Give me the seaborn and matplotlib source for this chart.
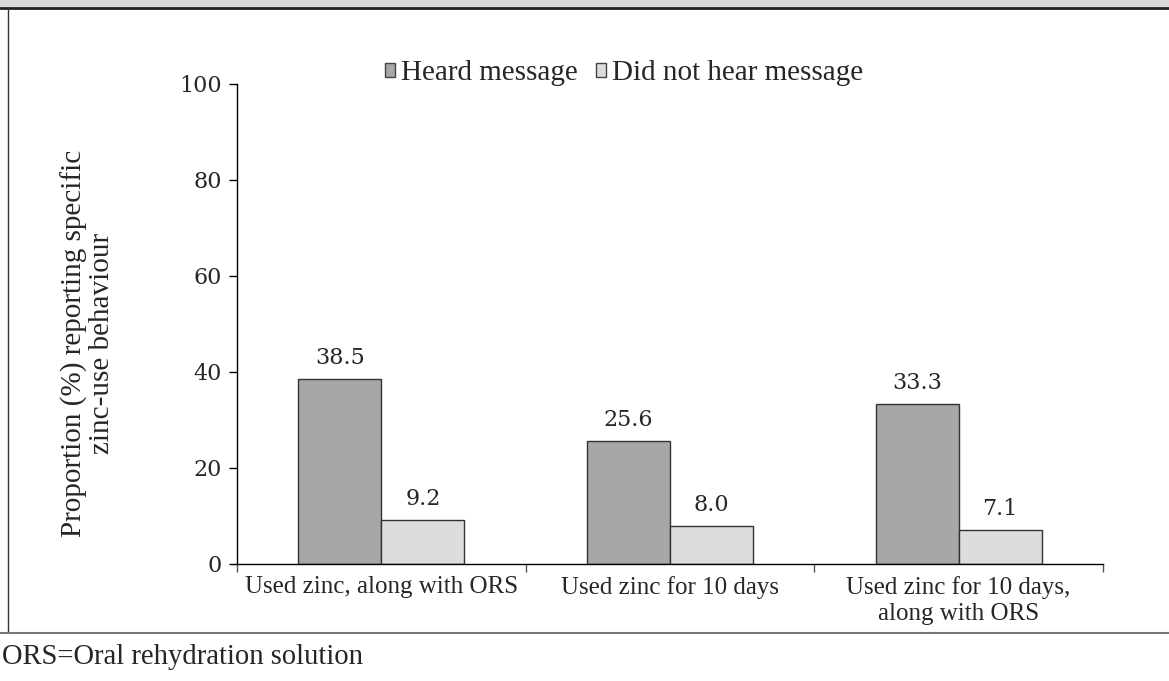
import matplotlib
matplotlib.use("Agg")
import matplotlib.pyplot as plt
from matplotlib.lines import Line2D
from matplotlib.patches import Rectangle
import pandas as pd
import seaborn as sns

categories = ["Used zinc, along with ORS", "Used zinc for 10 days",
              "Used zinc for 10 days,\nalong with ORS"]
groups = ["Heard message", "Did not hear message"]
heard = [38.5, 25.6, 33.3]
not_heard = [9.2, 8.0, 7.1]
colors = ["#a6a7aa", "#dcdddf"]

df = pd.DataFrame({
    "behaviour": categories * 2,
    "group": [groups[0]] * 3 + [groups[1]] * 3,
    "value": heard + not_heard,
})

sns.set_style("ticks")
plt.rcParams["font.family"] = ["Liberation Serif", "DejaVu Serif"]

fig = plt.figure(figsize=(11.69, 6.81), dpi=100)
ax = fig.add_axes([237 / 1169, 1 - 564 / 681, 866 / 1169, 480 / 681])

sns.barplot(data=df, x="behaviour", y="value", hue="group", palette=colors,
            width=0.575, edgecolor="#333333", linewidth=1, ax=ax, legend=True)

for cont in ax.containers:
    ax.bar_label(cont, fmt="%.1f", padding=7, family="DejaVu Serif", fontsize=16)

ax.set_ylim(0, 100)
ax.set_xlim(-0.5, 2.5)
ax.set_yticks([0, 20, 40, 60, 80, 100])
ax.tick_params(axis="y", length=6, width=1, color="black", pad=5)
for t in ax.get_yticklabels():
    t.set_fontfamily("DejaVu Serif")
    t.set_fontsize(16)
ax.tick_params(axis="x", which="major", labelsize=18, length=0, pad=9)
ax.set_xticks([-0.5, 0.5, 1.5, 2.5], minor=True)
ax.tick_params(axis="x", which="minor", length=6, width=1, color="#555555")
ax.set_xlabel("")
ax.set_ylabel("Proportion (%) reporting specific\nzinc-use behaviour", fontsize=21,
              linespacing=1.05)
ax.yaxis.set_label_coords((115 - 237) / 866, 0.46)
sns.despine(ax=ax)
for s in ["left", "bottom"]:
    ax.spines[s].set_color("black")
    ax.spines[s].set_linewidth(1)

ax.legend(loc="center", bbox_to_anchor=(624 / 1169, 1 - 73 / 681),
          bbox_transform=fig.transFigure, ncol=2, frameon=False, fontsize=21,
          handlelength=0.36, handleheight=0.36, handletextpad=0.2,
          columnspacing=0.6)
for h in ax.get_legend().legend_handles:
    h.set_edgecolor("#444444")
    h.set_linewidth(1)

# page framing: grey title strip, left rule, footnote rule
fig.add_artist(Rectangle((0, 1 - 7 / 681), 1, 7 / 681, transform=fig.transFigure,
                         facecolor="#d9dadc", edgecolor="none"))
fig.add_artist(Line2D([0, 1], [1 - 8 / 681] * 2, transform=fig.transFigure,
                      color="#222222", lw=2))
fig.add_artist(Line2D([8 / 1169] * 2, [1 - 633 / 681, 1 - 8 / 681],
                      transform=fig.transFigure, color="#333333", lw=1))
fig.add_artist(Line2D([0, 1], [1 - 633 / 681] * 2, transform=fig.transFigure,
                      color="#777777", lw=1.5))
fig.text(2 / 1169, 1 - 657 / 681, "ORS=Oral rehydration solution", fontsize=20.6,
         va="center", ha="left")

fig.savefig("out.png", dpi=100)
